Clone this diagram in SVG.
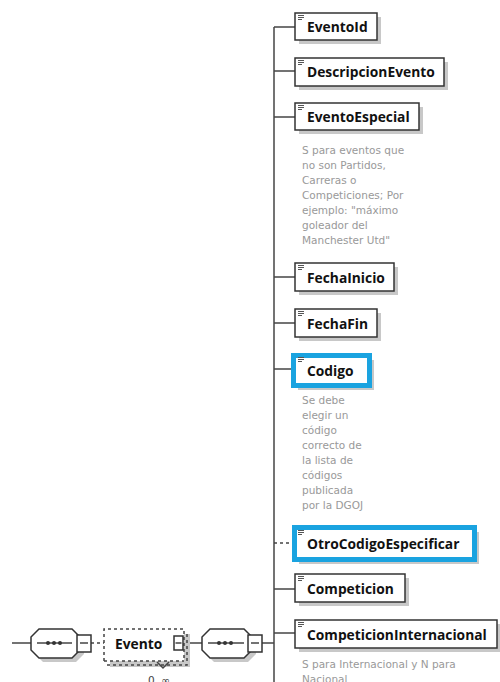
<svg xmlns="http://www.w3.org/2000/svg" width="500" height="682" viewBox="0 0 500 682">
<defs>
<style>
.box{fill:#fff;stroke:#333;stroke-width:1.5}
.sh{fill:#c8c8c8}
.hl{fill:#fff;stroke:#1aa3e0;stroke-width:5}
.lbl{font-family:"Open Sans","Liberation Sans",sans-serif;font-weight:bold;font-size:13.8px;fill:#111}
.doc{font-family:"DejaVu Sans","Liberation Sans",sans-serif;font-size:10.5px;fill:#999}
.ln{stroke:#444;stroke-width:1.5;fill:none}
.dash{stroke:#444;stroke-width:1.5;fill:none;stroke-dasharray:3,3}
.ic{stroke:#555;stroke-width:1}
</style>
<g id="icon"><line class="ic" x1="298" y1="0.5" x2="304" y2="0.5"/><line class="ic" x1="298" y1="2.5" x2="304" y2="2.5"/><line class="ic" x1="298" y1="4.5" x2="302" y2="4.5"/></g>
</defs>
<rect width="500" height="682" fill="#fff"/>
<g id="connectors">
<line class="ln" x1="274" y1="27" x2="274" y2="682"/>
<line class="ln" x1="274" y1="27" x2="295" y2="27"/>
<line class="ln" x1="274" y1="71" x2="295" y2="71"/>
<line class="ln" x1="274" y1="117" x2="295" y2="117"/>
<line class="ln" x1="274" y1="277" x2="295" y2="277"/>
<line class="ln" x1="274" y1="323" x2="295" y2="323"/>
<line class="ln" x1="274" y1="369" x2="292" y2="369"/>
<line class="dash" x1="274" y1="543" x2="292" y2="543"/>
<line class="ln" x1="274" y1="589" x2="295" y2="589"/>
<line class="ln" x1="274" y1="633" x2="295" y2="633"/>
<line class="ln" x1="12" y1="643" x2="31" y2="643"/>
<line class="dash" x1="91" y1="643" x2="104" y2="643"/>
<line class="ln" x1="182" y1="643" x2="202" y2="643"/>
<line class="ln" x1="262" y1="643" x2="274" y2="643"/>
</g>
<g id="EventoId">
<rect class="sh" x="299" y="17" width="82" height="27"/>
<rect class="box" x="295" y="13" width="82" height="27"/>
<use href="#icon" y="15"/>
<text class="lbl" x="307" y="32">EventoId</text>
</g>
<g id="DescripcionEvento">
<rect class="sh" x="299" y="62" width="149" height="28"/>
<rect class="box" x="295" y="58" width="149" height="28"/>
<use href="#icon" y="60"/>
<text class="lbl" x="307" y="77">DescripcionEvento</text>
</g>
<g id="EventoEspecial">
<rect class="sh" x="299" y="107" width="124" height="27"/>
<rect class="box" x="295" y="103" width="124" height="27"/>
<use href="#icon" y="105"/>
<text class="lbl" x="307" y="122">EventoEspecial</text>
<text class="doc" x="302"><tspan x="302" y="154">S para eventos que</tspan><tspan x="302" y="169">no son Partidos,</tspan><tspan x="302" y="184">Carreras o</tspan><tspan x="302" y="199">Competiciones; Por</tspan><tspan x="302" y="214">ejemplo: "máximo</tspan><tspan x="302" y="229">goleador del</tspan><tspan x="302" y="244">Manchester Utd"</tspan></text>
</g>
<g id="FechaInicio">
<rect class="sh" x="299" y="267" width="99" height="28"/>
<rect class="box" x="295" y="263" width="99" height="28"/>
<use href="#icon" y="265"/>
<text class="lbl" x="307" y="283">FechaInicio</text>
</g>
<g id="FechaFin">
<rect class="sh" x="299" y="313" width="82" height="28"/>
<rect class="box" x="295" y="309" width="82" height="28"/>
<use href="#icon" y="311"/>
<text class="lbl" x="307" y="329">FechaFin</text>
</g>
<g id="Codigo">
<rect class="sh" x="298" y="360" width="76" height="30"/>
<rect class="hl" x="293.5" y="355.5" width="76" height="30"/>
<use href="#icon" y="357"/>
<text class="lbl" x="307" y="376">Codigo</text>
<text class="doc"><tspan x="302" y="404">Se debe</tspan><tspan x="302" y="419">elegir un</tspan><tspan x="302" y="434">código</tspan><tspan x="302" y="449">correcto de</tspan><tspan x="302" y="464">la lista de</tspan><tspan x="302" y="479">códigos</tspan><tspan x="302" y="494">publicada</tspan><tspan x="302" y="509">por la DGOJ</tspan></text>
</g>
<g id="OtroCodigoEspecificar">
<rect class="sh" x="299" y="532" width="180" height="32"/>
<rect class="hl" x="294.5" y="527.5" width="180" height="32"/>
<use href="#icon" y="530"/>
<text class="lbl" x="307" y="549">OtroCodigoEspecificar</text>
</g>
<g id="Competicion">
<rect class="sh" x="299" y="578" width="110" height="28"/>
<rect class="box" x="295" y="574" width="110" height="28"/>
<use href="#icon" y="576"/>
<text class="lbl" x="307" y="594">Competicion</text>
</g>
<g id="CompeticionInternacional">
<rect class="sh" x="299" y="624" width="202" height="28"/>
<rect class="box" x="295" y="620" width="202" height="28"/>
<use href="#icon" y="622"/>
<text class="lbl" x="307" y="640">CompeticionInternacional</text>
<text class="doc"><tspan x="302" y="668">S para Internacional y N para</tspan><tspan x="302" y="683">Nacional</tspan></text>
</g>
<g id="seq1">
<polygon class="sh" points="43,633 76,633 84,641 84,654 76,662 43,662 35,654 35,641"/>
<polygon class="box" points="39,629 72,629 80,637 80,650 72,658 39,658 31,650 31,637"/>
<line class="ln" x1="37" y1="643" x2="72" y2="643"/>
<circle cx="48" cy="643" r="2" fill="#333"/><circle cx="54" cy="643" r="2" fill="#333"/><circle cx="60" cy="643" r="2" fill="#333"/>
<rect class="box" x="77" y="635" width="14" height="17"/>
<line class="ln" x1="80" y1="643" x2="88" y2="643"/>
</g>
<g id="Evento">
<rect class="sh" x="110" y="634" width="80" height="33"/>
<rect x="104" y="629" width="80" height="32" fill="#fff"/>
<path class="dash" d="M104,661 V629 H184 V661"/>
<path class="dash" d="M107,665 H187 V634"/>
<path class="dash" d="M104,661 H184"/>
<text class="lbl" x="115" y="649">Evento</text>
<rect class="box" x="174" y="636" width="9" height="14"/>
<line class="ln" x1="175.5" y1="643" x2="181.5" y2="643"/>
<polyline class="ln" points="157,662 163,668 169,662"/>
<text class="doc" x="148" y="684" style="fill:#444">0..∞</text>
</g>
<g id="seq2">
<polygon class="sh" points="214,633 248,633 256,641 256,654 248,662 214,662 206,654 206,641"/>
<polygon class="box" points="210,629 244,629 252,637 252,650 244,658 210,658 202,650 202,637"/>
<line class="ln" x1="208" y1="643" x2="244" y2="643"/>
<circle cx="219" cy="643" r="2" fill="#333"/><circle cx="225" cy="643" r="2" fill="#333"/><circle cx="231" cy="643" r="2" fill="#333"/>
<rect class="box" x="248" y="635" width="14" height="17"/>
<line class="ln" x1="251" y1="643" x2="259" y2="643"/>
</g>
</svg>
